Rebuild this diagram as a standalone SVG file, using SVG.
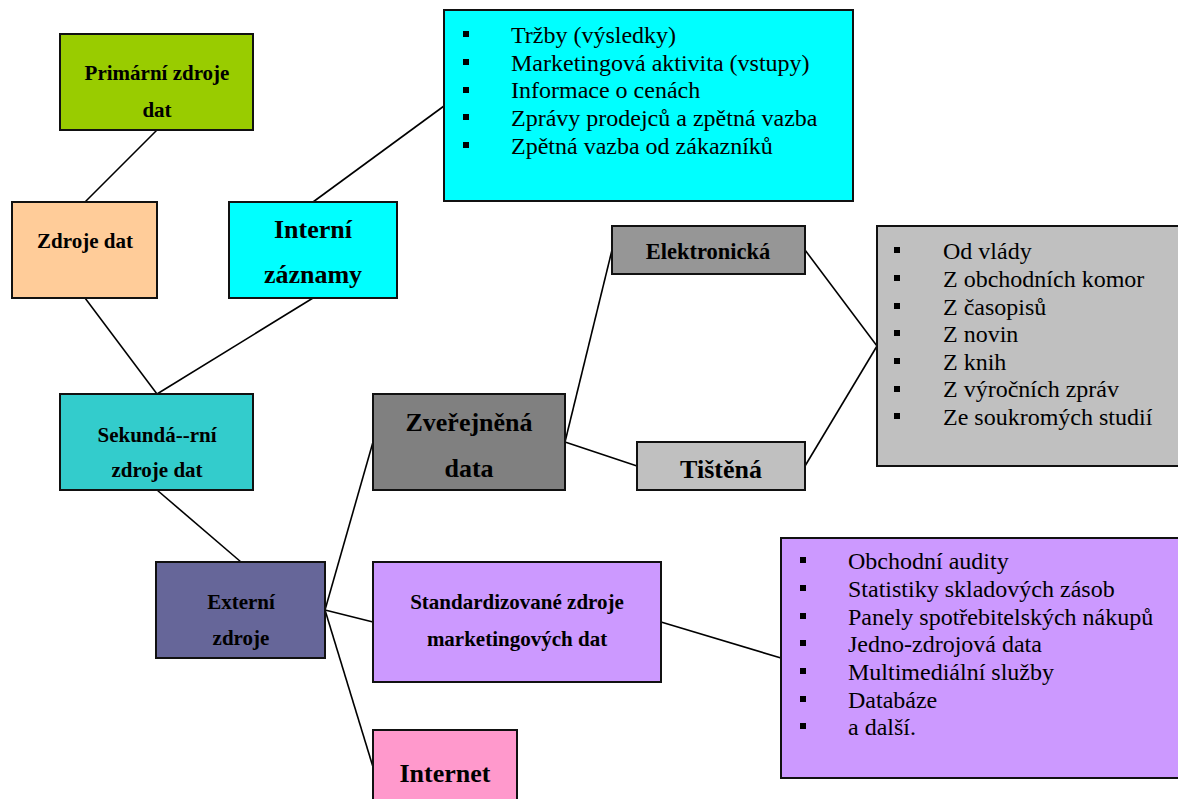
<svg xmlns="http://www.w3.org/2000/svg" width="1178" height="799" viewBox="0 0 1178 799">
<style>
.box{stroke:#111;stroke-width:2}
.lbl{font-family:"Liberation Serif","Times New Roman",serif;font-weight:bold;fill:#000;text-anchor:middle}
.s21{font-size:21px}
.s22{font-size:22.5px}
.s26{font-size:26px}
.li{font-family:"Liberation Serif","Times New Roman",serif;font-size:24px;fill:#000}
.bul{fill:#000}
.con line{stroke:#000;stroke-width:1.6}
</style>
<rect width="1178" height="799" fill="#fff"/>
<g class="con" id="connectors">
<line x1="157" y1="130" x2="85" y2="202"/>
<line x1="313" y1="202" x2="444" y2="106"/>
<line x1="85" y1="298" x2="157" y2="394"/>
<line x1="313" y1="298" x2="157" y2="394"/>
<line x1="157" y1="490" x2="241" y2="562"/>
<line x1="325" y1="610" x2="373" y2="442"/>
<line x1="325" y1="610" x2="373" y2="622"/>
<line x1="325" y1="610" x2="373" y2="767"/>
<line x1="565" y1="442" x2="612" y2="250"/>
<line x1="565" y1="442" x2="637" y2="466"/>
<line x1="805" y1="250" x2="877" y2="346"/>
<line x1="805" y1="466" x2="877" y2="346"/>
<line x1="661" y1="622" x2="781" y2="658"/>
</g>
<g id="primarni">
<rect class="box" x="60" y="34" width="193" height="96" fill="#99CC00"/>
<text class="lbl s21" x="157" y="80">Primární zdroje</text>
<text class="lbl s21" x="157" y="117">dat</text>
</g>
<g id="zdroje">
<rect class="box" x="12" y="202" width="145" height="96" fill="#FFCC99"/>
<text class="lbl s21" x="85" y="248">Zdroje dat</text>
</g>
<g id="interni">
<rect class="box" x="229" y="202" width="168" height="96" fill="#00FFFF"/>
<text class="lbl s26" x="313" y="238">Interní</text>
<text class="lbl s26" x="313" y="283">záznamy</text>
</g>
<g id="interni-list">
<rect class="box" x="444" y="10" width="409" height="191" fill="#00FFFF"/>
<rect class="bul" x="463" y="31" width="6" height="6"/>
<rect class="bul" x="463" y="59" width="6" height="6"/>
<rect class="bul" x="463" y="87" width="6" height="6"/>
<rect class="bul" x="463" y="114" width="6" height="6"/>
<rect class="bul" x="463" y="142" width="6" height="6"/>
<text class="li" x="511" y="43">Tržby (výsledky)</text>
<text class="li" x="511" y="71">Marketingová aktivita (vstupy)</text>
<text class="li" x="511" y="98">Informace o cenách</text>
<text class="li" x="511" y="126">Zprávy prodejců a zpětná vazba</text>
<text class="li" x="511" y="154">Zpětná vazba od zákazníků</text>
</g>
<g id="sekundarni">
<rect class="box" x="60" y="394" width="193" height="96" fill="#33CCCC"/>
<text class="lbl s21" x="157" y="442">Sekundá--rní</text>
<text class="lbl s21" x="157" y="477">zdroje dat</text>
</g>
<g id="externi">
<rect class="box" x="156" y="562" width="169" height="96" fill="#666699"/>
<text class="lbl s21" x="241" y="609">Externí</text>
<text class="lbl s21" x="241" y="645">zdroje</text>
</g>
<g id="zverejnena">
<rect class="box" x="373" y="394" width="192" height="96" fill="#808080"/>
<text class="lbl s26" x="469" y="431">Zveřejněná</text>
<text class="lbl s26" x="469" y="477">data</text>
</g>
<g id="elektronicka">
<rect class="box" x="612" y="226" width="193" height="48" fill="#969696"/>
<text class="lbl s22" x="708" y="259">Elektronická</text>
</g>
<g id="tistena">
<rect class="box" x="637" y="442" width="168" height="48" fill="#C0C0C0"/>
<text class="lbl s26" x="721" y="478">Tištěná</text>
</g>
<g id="zverejnena-list">
<rect class="box" x="877" y="226" width="303" height="240" fill="#C0C0C0"/>
<rect class="bul" x="894" y="247" width="6" height="6"/>
<rect class="bul" x="894" y="275" width="6" height="6"/>
<rect class="bul" x="894" y="303" width="6" height="6"/>
<rect class="bul" x="894" y="330" width="6" height="6"/>
<rect class="bul" x="894" y="358" width="6" height="6"/>
<rect class="bul" x="894" y="386" width="6" height="6"/>
<rect class="bul" x="894" y="413" width="6" height="6"/>
<text class="li" x="943" y="259">Od vlády</text>
<text class="li" x="943" y="287">Z obchodních komor</text>
<text class="li" x="943" y="315">Z časopisů</text>
<text class="li" x="943" y="342">Z novin</text>
<text class="li" x="943" y="370">Z knih</text>
<text class="li" x="943" y="397">Z výročních zpráv</text>
<text class="li" x="943" y="425">Ze soukromých studií</text>
</g>
<g id="standardizovane">
<rect class="box" x="373" y="562" width="288" height="120" fill="#CC99FF"/>
<text class="lbl s21" x="517" y="609">Standardizované zdroje</text>
<text class="lbl s21" x="517" y="646">marketingových dat</text>
</g>
<g id="standardizovane-list">
<rect class="box" x="781" y="538" width="399" height="240" fill="#CC99FF"/>
<rect class="bul" x="800" y="557" width="6" height="6"/>
<rect class="bul" x="800" y="585" width="6" height="6"/>
<rect class="bul" x="800" y="613" width="6" height="6"/>
<rect class="bul" x="800" y="640" width="6" height="6"/>
<rect class="bul" x="800" y="668" width="6" height="6"/>
<rect class="bul" x="800" y="696" width="6" height="6"/>
<rect class="bul" x="800" y="723" width="6" height="6"/>
<text class="li" x="848" y="569">Obchodní audity</text>
<text class="li" x="848" y="597">Statistiky skladových zásob</text>
<text class="li" x="848" y="625">Panely spotřebitelských nákupů</text>
<text class="li" x="848" y="652">Jedno-zdrojová data</text>
<text class="li" x="848" y="680">Multimediální služby</text>
<text class="li" x="848" y="708">Databáze</text>
<text class="li" x="848" y="735">a další.</text>
</g>
<g id="internet">
<rect class="box" x="373" y="730" width="144" height="80" fill="#FF99CC"/>
<text class="lbl s26" x="445" y="782">Internet</text>
</g>
</svg>
